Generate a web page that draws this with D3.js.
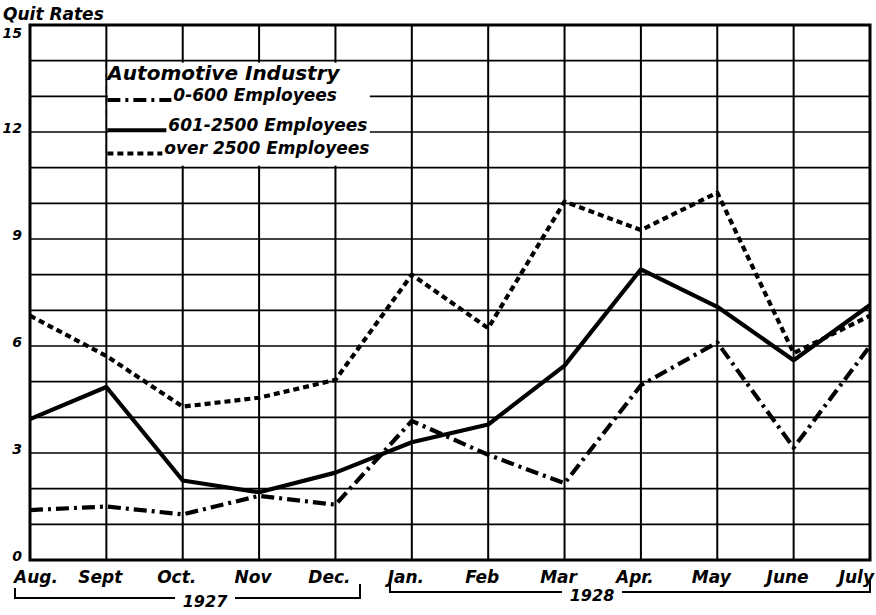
<!DOCTYPE html>
<html>
<head>
<meta charset="utf-8">
<script src="https://cdn.jsdelivr.net/npm/d3@7"></script>
<style>
  body { margin: 0; background: #fff; }
  text { font-family: "DejaVu Sans", sans-serif; font-style: oblique; font-weight: bold; fill: #000; }
</style>
</head>
<body>
<div id="chart-area"></div>
<script>
// months, Aug 1927 - July 1928
var months = ["Aug.", "Sept", "Oct.", "Nov", "Dec.", "Jan.", "Feb", "Mar", "Apr.", "May", "June", "July"];
var yTicks = [0, 3, 6, 9, 12, 15];

// quit rates
var small  = [1.4, 1.5, 1.28, 1.8, 1.55, 3.9, 2.95, 2.15, 4.9, 6.1, 3.15, 6.0];     // 0-600
var medium = [3.95, 4.85, 2.23, 1.9, 2.45, 3.3, 3.8, 5.45, 8.15, 7.1, 5.6, 7.15];   // 601-2500
var large  = [6.85, 5.72, 4.3, 4.55, 5.05, 8.0, 6.5, 10.05, 9.25, 10.3, 5.8, 6.85]; // over 2500

var seriesNames = ["0-600 Employees", "601-2500 Employees", "over 2500 Employees"];
var dashes = ["13,5,3,5", null, "6,4"];

var width = 876, height = 615;
var svg = d3.select("#chart-area").append("svg").attr("width", width).attr("height", height);

var x = d3.scalePoint().domain(d3.range(months.length)).range([30, 870]);
var y = d3.scaleLinear().domain([0, 15]).range([560, 25]);

// grid
var grid = svg.append("g");
grid.selectAll(".h").data(d3.range(1, 15)).enter().append("line")
  .attr("x1", 30).attr("x2", 870)
  .attr("y1", d => y(d)).attr("y2", d => y(d))
  .attr("stroke", "#000").attr("stroke-width", 1.7);
grid.selectAll(".v").data(d3.range(1, months.length - 1)).enter().append("line")
  .attr("x1", d => x(d)).attr("x2", d => x(d))
  .attr("y1", y(15)).attr("y2", y(0))
  .attr("stroke", "#000").attr("stroke-width", 2);

// legend box clears the grid
svg.append("rect").attr("x", x(1) + 1.5).attr("y", y(14) + 2)
  .attr("width", 262).attr("height", y(11) - y(14) - 4)
  .attr("fill", "#fff");
// Sept line shows faintly through the legend
svg.append("line").attr("x1", x(1)).attr("x2", x(1))
  .attr("y1", y(14)).attr("y2", y(11))
  .attr("stroke", "#000").attr("stroke-width", 1.3).attr("stroke-dasharray", "8,4");

// frame
svg.append("rect").attr("x", 30).attr("y", y(15))
  .attr("width", 840).attr("height", y(0) - y(15))
  .attr("fill", "none").attr("stroke", "#000").attr("stroke-width", 3);

// y labels
svg.selectAll(".ylab").data(yTicks).enter().append("text")
  .attr("x", 22).attr("y", d => d == 15 ? y(d) + 13 : y(d) + 1)
  .attr("text-anchor", "end").attr("font-size", 14)
  .text(d => d);

svg.append("text").attr("x", 3).attr("y", 20).attr("font-size", 17).text("Quit Rates");

// x labels
svg.selectAll(".xlab").data(months).enter().append("text")
  .attr("x", (d, i) => i == 0 ? 14 : (i == months.length - 1 ? 874 : x(i) - 6))
  .attr("y", 583)
  .attr("text-anchor", (d, i) => i == 0 ? "start" : (i == months.length - 1 ? "end" : "middle"))
  .attr("font-size", 17)
  .text(d => d);

// year brackets
function bracket(x0, x1, yy, label, lx) {
  var g = svg.append("g");
  g.append("path")
    .attr("d", "M" + x0 + "," + (yy - 10) + "V" + yy + "H" + (lx - 30) + "M" + (lx + 30) + "," + yy + "H" + x1 + "V" + (yy - 14))
    .attr("fill", "none").attr("stroke", "#000").attr("stroke-width", 2);
  g.append("text").attr("x", lx).attr("y", yy + 9).attr("text-anchor", "middle")
    .attr("font-size", 16).text(label);
}
bracket(15, 360, 598, "1927", 205);
bracket(390, 870, 592, "1928", 592);

// series lines
var line = d3.line().x((d, i) => x(i)).y(d => y(d));
[small, medium, large].forEach(function(s, k) {
  svg.append("path").datum(s)
    .attr("d", line)
    .attr("fill", "none")
    .attr("stroke", "#000")
    .attr("stroke-width", 4.2)
    .attr("stroke-linejoin", "round")
    .attr("stroke-dasharray", dashes[k]);
});

// legend
var lx = x(1) + 1;
svg.append("text").attr("x", lx).attr("y", y(13.45)).attr("font-size", 20)
  .attr("font-weight", "normal").text("Automotive Industry");
var rowsY = [12.9, 12.05, 11.4];
var rowsLen = [64, 59, 55];
seriesNames.forEach(function(n, k) {
  svg.append("line").attr("x1", lx).attr("x2", lx + rowsLen[k])
    .attr("y1", y(rowsY[k])).attr("y2", y(rowsY[k]))
    .attr("stroke", "#000").attr("stroke-width", 4)
    .attr("stroke-dasharray", dashes[k]);
  svg.append("text").attr("x", lx + rowsLen[k] + 2).attr("y", y(rowsY[k]) + 1)
    .attr("font-size", 17).text(n);
});
</script>
</body>
</html>
